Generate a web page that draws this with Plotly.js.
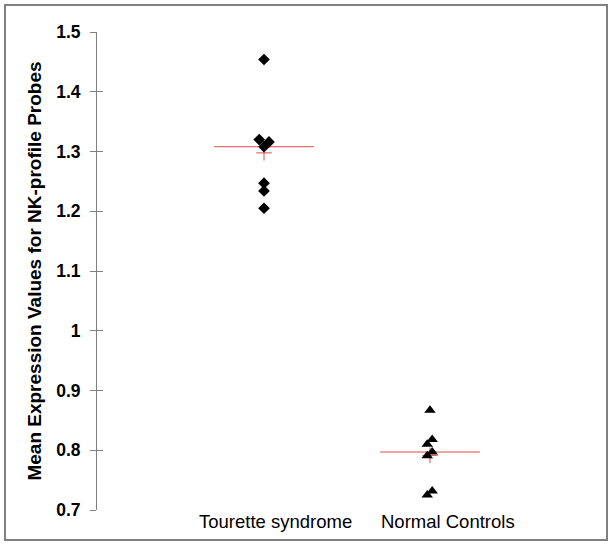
<!DOCTYPE html>
<html>
<head>
<meta charset="utf-8">
<script src="https://cdn.plot.ly/plotly-3.0.1.min.js"></script>
<style>
  html, body { margin: 0; padding: 0; background: #fff; }
  #wrap { position: relative; width: 609px; height: 544px; }
  #frame { position: absolute; left: 4px; top: 4px; width: 600px; height: 533px; border: 2px solid #808080; pointer-events: none; }
  #chart { position: absolute; left: 0; top: 0; width: 609px; height: 544px; }
</style>
</head>
<body>
<div id="wrap"><div id="chart"></div><div id="frame"></div></div>
<script>
// ---- data ----
const groups = ['Tourette syndrome', 'Normal Controls'];
const labelX = [1, 2];
const groupX = [0.933, 1.898];
const touretteValues = [1.454, 1.320, 1.316, 1.308, 1.247, 1.234, 1.205];
const touretteJitter = [0, -0.028, 0.029, 0, 0, 0, 0];
const controlValues = [0.867, 0.818, 0.810, 0.797, 0.791, 0.732, 0.725];
const controlJitter = [0, 0.013, -0.016, 0.013, -0.016, 0.013, -0.016];
const yTickVals = [0.7, 0.8, 0.9, 1.0, 1.1, 1.2, 1.3, 1.4, 1.5];
const yTickText = ['0.7', '0.8', '0.9', '1', '1.1', '1.2', '1.3', '1.4', '1.5'];

function median(a) { const s = [...a].sort((p, q) => p - q); const m = Math.floor(s.length / 2); return s.length % 2 ? s[m] : (s[m - 1] + s[m]) / 2; }
function mean(a) { return a.reduce((p, q) => p + q, 0) / a.length; }

const redC = '#e04a4a';
const halfW = 0.29;
const sets = [
  { vals: touretteValues, jit: touretteJitter, sym: 'diamond', size: 9 },
  { vals: controlValues, jit: controlJitter, sym: 'triangle-up', size: 10 }
];
const traces = [];
sets.forEach((s, i) => {
  const gx = groupX[i];
  const md = median(s.vals);
  traces.push({ x: [gx - halfW, gx + halfW], y: [md, md], mode: 'lines', line: { color: redC, width: 1 }, hoverinfo: 'skip', showlegend: false });
  traces.push({ x: [gx], y: [mean(s.vals)], mode: 'markers', marker: { symbol: 'cross-thin', size: 11, line: { color: redC, width: 1 } }, showlegend: false });
  traces.push({ x: s.jit.map(j => gx + j), y: s.vals, mode: 'markers', marker: { symbol: s.sym, size: s.size, color: '#000' }, showlegend: false });
});
traces.push({ x: [], y: [], yaxis: 'y2', showlegend: false });

const layout = {
  width: 609, height: 544,
  margin: { l: 97, r: 6, t: 32, b: 34 },
  paper_bgcolor: 'rgba(0,0,0,0)', plot_bgcolor: 'rgba(0,0,0,0)',
  font: { family: 'Liberation Sans, Arial, sans-serif', color: '#000' },
  showlegend: false,
  xaxis: {
    range: [-0.038, 2.904], showgrid: false, zeroline: false, showline: false,
    showticklabels: false, ticks: ''
  },
  yaxis: {
    range: [0.7, 1.5], showgrid: false, zeroline: false,
    showline: true, linecolor: '#808080', linewidth: 1,
    ticks: 'outside', ticklen: 6, tickcolor: '#808080', tickwidth: 1,
    tickvals: yTickVals, ticktext: yTickText, ticklabelstandoff: 6,
    tickfont: { size: 17.5, color: '#000', weight: 'bold' },
    title: { text: 'Mean Expression Values for NK-profile Probes', font: { size: 19, weight: 'bold', color: '#000' }, standoff: 9 }
  },
  yaxis2: {
    overlaying: 'y', matches: 'y', side: 'left', showgrid: false, zeroline: false,
    showline: false, ticks: 'inside', ticklen: 6, tickcolor: '#808080', tickwidth: 1,
    tickvals: yTickVals, showticklabels: false
  },
  annotations: groups.map((g, i) => ({
    x: labelX[i], xref: 'x', y: 0, yref: 'paper', yanchor: 'middle', xanchor: 'center',
    yshift: -11, text: g, showarrow: false, font: { size: 18.5, color: '#000' }
  }))
};
Plotly.newPlot('chart', traces, layout, { displayModeBar: false, staticPlot: true });
</script>
</body>
</html>
